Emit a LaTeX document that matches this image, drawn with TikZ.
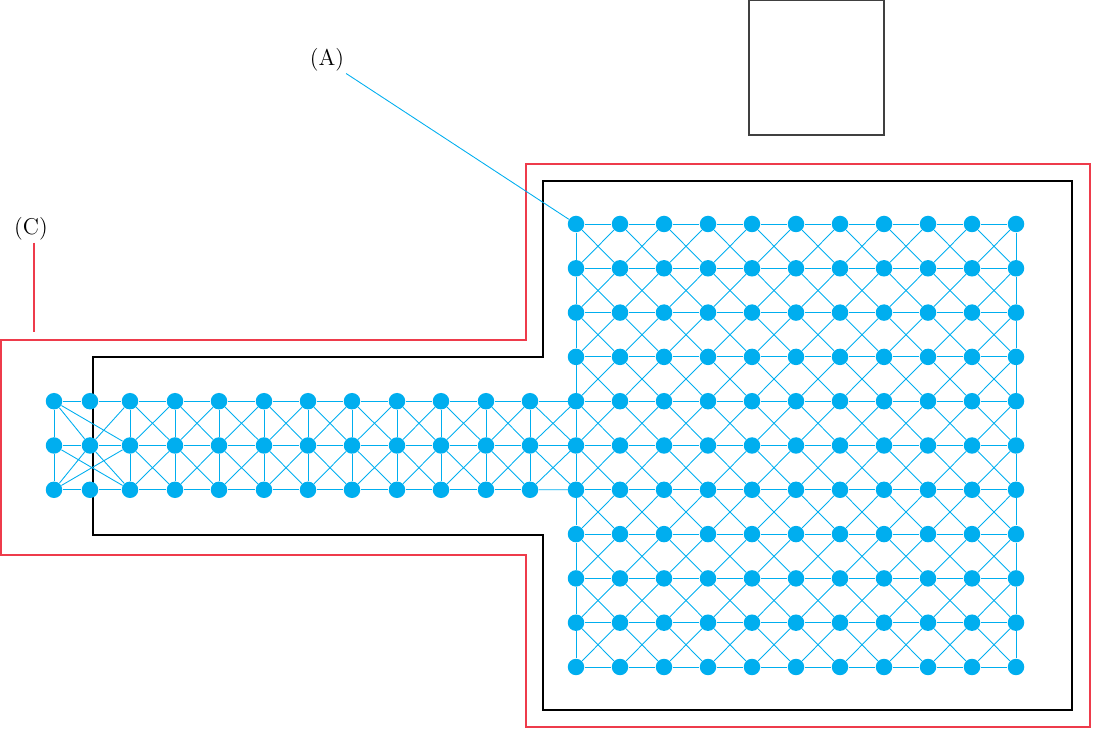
\documentclass[tikz,border=0pt]{standalone}
\definecolor{meshblue}{HTML}{00AEEF}
\definecolor{outlinered}{HTML}{EE3B4B}
\begin{document}
\begin{tikzpicture}[x=0.02cm,y=-0.02cm,
    dot/.style={circle,fill=meshblue,inner sep=0pt,minimum size=0.33cm},
    link/.style={meshblue,line width=0.5pt},
    tag/.style={font=\fontsize{13}{15}\selectfont,inner sep=1pt}]
  \useasboundingbox (0,0) rectangle (1093,729);
  % outlines
  \draw[outlinered,line width=0.8pt] (1,340) -- (526,340) -- (526,164) -- (1090,164)
    -- (1090,727) -- (526,727) -- (526,555) -- (1,555) -- cycle;
  \draw[line width=0.7pt] (93,357) -- (543,357) -- (543,181) -- (1072,181)
    -- (1072,710) -- (543,710) -- (543,535) -- (93,535) -- cycle;
  \node[draw=black!75,line width=0.7pt,minimum width=2.7cm,minimum height=2.7cm] (box) at (816.5,67.5) {};
  % square grid
  \foreach \i in {0,...,10}
    \foreach \j in {0,...,10}
      \node[dot] (g-\i-\j) at (576+44*\i,224+44.3*\j) {};
  % strip
  \foreach \x [count=\i from 0] in {54,90,130,175,219,264,308,352,397,441,486,530}
    \foreach \j in {0,1,2}
      \node[dot] (s-\i-\j) at (\x,401.2+44.3*\j) {};
  \foreach \j in {0,1,2} {
    \pgfmathtruncatemacro\r{\j+4}
    \coordinate (s-12-\j) at (g-0-\r.center);
  }
  % grid links
  \foreach \i [evaluate=\i as \n using int(\i+1)] in {0,...,9} {
    \foreach \j [evaluate=\j as \m using int(\j+1)] in {0,...,9} {
      \draw[link] (g-\i-\j) -- (g-\n-\m);
      \draw[link] (g-\n-\j) -- (g-\i-\m);
    }
    \foreach \j in {0,...,10}
      \draw[link] (g-\i-\j) -- (g-\n-\j);
  }
  \foreach \j [evaluate=\j as \m using int(\j+1)] in {0,...,9} {
    \draw[link] (g-0-\j) -- (g-0-\m);
    \draw[link] (g-10-\j) -- (g-10-\m);
  }
  % strip links
  \foreach \i [evaluate=\i as \n using int(\i+1)] in {0,...,11}
    \foreach \j in {0,1,2}
      \draw[link] (s-\i-\j) -- (s-\n-\j);
  \foreach \i in {0,2,3,4,5,6,7,8,9,10,11}
    \draw[link] (s-\i-0) -- (s-\i-1) -- (s-\i-2);
  \foreach \i in {2,...,11} {
    \pgfmathtruncatemacro\n{\i+1}
    \draw[link] (s-\i-0) -- (s-\n-1) -- (s-\i-2);
    \draw[link] (s-\n-0) -- (s-\i-1) -- (s-\n-2);
  }
  \draw[link] (s-0-0) -- (s-1-1) (s-0-0) -- (s-2-1) (s-0-1) -- (s-2-2)
    (s-0-2) -- (s-1-1) (s-0-2) -- (s-2-1) (s-1-1) -- (s-2-0) (s-1-1) -- (s-2-2);
  % labels
  \node[tag] (A) at (327,60) {(A)};
  \draw[link] (A.south east) -- (g-0-0);
  \node[tag] (C) at (31,229) {(C)};
  \coordinate (c-end) at (34,332);
  \draw[outlinered,line width=0.8pt] (C.south -| c-end) -- (c-end);
\end{tikzpicture}
\end{document}
